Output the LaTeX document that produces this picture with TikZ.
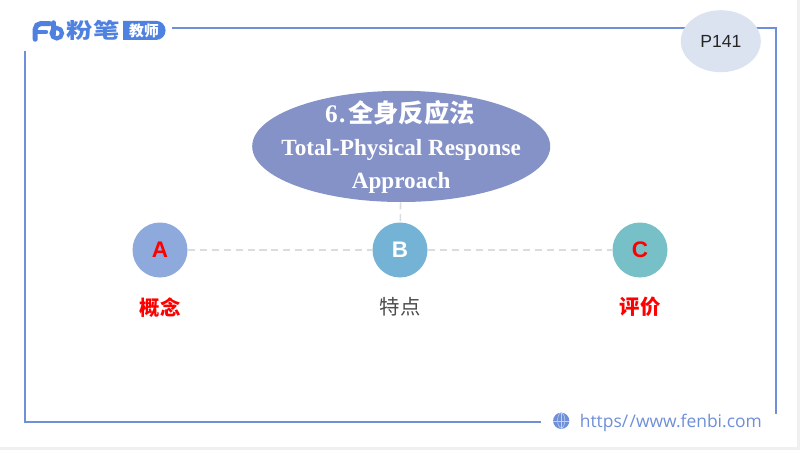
\documentclass[tikz,border=0pt]{standalone}
\usepackage{fontspec}
\setmainfont{Liberation Serif}
\setsansfont{Liberation Sans}
\newfontfamily\cjk{Noto Sans CJK SC}
\newfontfamily\urlfont{Open Sans}
\usetikzlibrary{shapes.geometric}
\definecolor{framec}{HTML}{6F8FD8}
\definecolor{logoc}{HTML}{4F82E0}
\definecolor{topicc}{HTML}{8592C8}
\definecolor{pagec}{HTML}{DCE3F0}
\definecolor{linkc}{HTML}{DADDE0}
\definecolor{circa}{HTML}{8EA9DB}
\definecolor{circb}{HTML}{74B3D6}
\definecolor{circc}{HTML}{78C0C8}
\begin{document}
\begin{tikzpicture}[
        frameline/.style={draw=framec, line width=1.3pt},
        letter/.style={circle, minimum size=2.75cm*0.5, inner sep=0pt, font=\sffamily\bfseries\fontsize{16}{16}\selectfont},
        caption/.style={font=\cjk\bfseries\fontsize{14.5}{14.5}\selectfont, text=red},
        linkline/.style={draw=linkc, line width=1.1pt, dash pattern=on 5pt off 3.5pt}
    ]
        \useasboundingbox (0, 0) rectangle (20, 11.25);
        \fill[white] (0, 0) rectangle (20, 11.25);
        \fill[gray!12] (19.92, 0) rectangle (20, 11.25);
        \fill[gray!12] (0, 0) rectangle (20, 0.07);

        % frame
        \draw[frameline] (4.3, 10.55) -| (19.4, 0.9);
        \draw[frameline] (0.63, 9.98) |- (13.52, 0.7);

        % logo
        \draw[logoc, line width=3.6pt, line cap=round, rounded corners=4pt] (0.88, 10.27) -- (0.88, 10.66) -- (1.24, 10.66);
        \draw[logoc, line width=3.2pt, line cap=round] (0.88, 10.45) -- (1.15, 10.45);
        \draw[logoc, line width=3.6pt, line cap=round] (1.34, 10.68) -- (1.34, 10.4);
        \draw[logoc, line width=3pt] (1.42, 10.42) circle (0.13);
        \node (brand) at (2.33, 10.48) [font=\cjk\bfseries\fontsize{15}{15}\selectfont, text=logoc, inner sep=0pt, xscale=1.25] {粉笔};
        \fill[logoc, rounded corners=0pt] (3.08, 10.73) -- (3.9, 10.73) arc (90:-90:0.24) -- (3.08, 10.25) -- cycle;
        \node (tag) at (3.6, 10.48) [font=\cjk\bfseries\fontsize{10.5}{10.5}\selectfont, text=white, inner sep=0pt] {教师};

        % page badge
        \node (page) at (18.02, 10.22) [ellipse, fill=pagec, minimum width=2cm, minimum height=1.55cm, inner sep=0pt] {};
        \node (pagetext) at (page.center) [font=\sffamily\fontsize{12.5}{12.5}\selectfont, text=black!85] {P141};

        % topic
        \node (topic) at (10.03, 7.59) [ellipse, fill=topicc, minimum width=7.45cm, minimum height=2.78cm, inner sep=0pt] {};
        \node (topictitle) at (10, 8.43) [font=\bfseries\fontsize{18}{18}\selectfont, text=white, inner sep=0pt] {6\kern1pt.\kern2pt{\cjk 全身反应法}};
        \node (topicen) at (10.03, 7.5) [font=\bfseries\fontsize{16.5}{16.5}\selectfont, text=white, inner sep=0pt] {Total-Physical Response};
        \node (topicen2) at (10.03, 6.68) [font=\bfseries\fontsize{16.5}{16.5}\selectfont, text=white, inner sep=0pt] {Approach};

        % points
        \node (pta) at (4, 5) [letter, fill=circa, text=red] {A};
        \node (ptb) at (10, 5) [letter, fill=circb, text=white] {B};
        \node (ptc) at (16, 5) [letter, fill=circc, text=red] {C};

        \draw[linkline] (pta) -- (ptb);
        \draw[linkline] (ptb) -- (ptc);
        \draw[linkline] (topic) -- (ptb);

        \node (capa) at (4, 3.57) [caption] {概念};
        \node (capb) at (10, 3.57) [caption, font=\cjk\fontsize{14.5}{14.5}\selectfont, text=black!70] {特点};
        \node (capc) at (16, 3.57) [caption] {评价};

        % web address
        \node (globe) at (14.03, 0.73) [circle, draw=framec, fill=framec, line width=0.7pt, minimum size=0.38cm, inner sep=0pt] {};
        \draw[white!60!framec, line width=0.4pt] (globe.north) -- (globe.south) (globe.west) -- (globe.east);
        \draw[white!60!framec, line width=0.4pt] (globe.north) arc (90:270:0.09 and 0.19);
        \draw[white!60!framec, line width=0.4pt] (globe.north) arc (90:-90:0.09 and 0.19);
        \node (web) at (16.77, 0.68) [font=\urlfont\fontsize{12.4}{12.4}\selectfont, text=framec, inner sep=0pt] {https/\kern1pt/www.fenbi.com};
    \end{tikzpicture}
\end{document}
